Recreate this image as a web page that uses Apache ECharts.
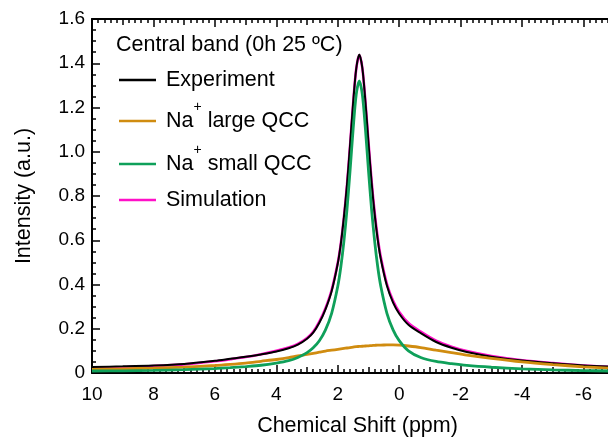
<!DOCTYPE html>
<html><head><meta charset="utf-8">
<script src="https://cdn.jsdelivr.net/npm/echarts@6/dist/echarts.min.js"></script>
<style>html,body{margin:0;padding:0;background:#fff;overflow:hidden;width:608px;height:437px}#c{width:645px;height:437px}</style>
</head><body><div id="c"></div>
<script>
// Chemical shift (ppm) sample positions
const shift = [10, 9, 8, 7, 6, 5.5, 5, 4.5, 4, 3.6, 3.3, 3.0, 2.8, 2.6, 2.4, 2.2, 2.0, 1.9, 1.8, 1.7, 1.6, 1.5, 1.4, 1.3, 1.2, 1.1, 1.0, 0.9, 0.8, 0.7, 0.6, 0.4, 0.2, 0.0, -0.3, -0.7, -1.2, -1.7, -2.2, -3, -4, -5, -6, -6.8];
const experiment = [0.027,0.030,0.034,0.041,0.055,0.064,0.073,0.084,0.097,0.112,
  0.128,0.155,0.182,0.227,0.288,0.370,0.495,0.585,0.705,0.850,
  1.030,1.220,1.375,1.440,1.378,1.225,1.038,0.862,0.718,0.603,
  0.515,0.394,0.318,0.268,0.218,0.180,0.140,0.114,0.095,0.074,
  0.056,0.044,0.034,0.029];
const largeQCC = [0.016,0.019,0.022,0.027,0.034,0.039,0.045,0.053,0.061,0.069,
  0.077,0.084,0.089,0.094,0.099,0.103,0.107,0.109,0.111,0.113,
  0.115,0.117,0.119,0.120,0.121,0.122,0.123,0.124,0.125,0.126,
  0.126,0.127,0.127,0.126,0.122,0.115,0.103,0.092,0.081,0.066,
  0.050,0.038,0.028,0.022];
const smallQCC = [0.009,0.010,0.012,0.015,0.020,0.024,0.029,0.035,0.045,0.056,
  0.070,0.092,0.114,0.146,0.195,0.270,0.392,0.480,0.596,0.740,
  0.915,1.102,1.258,1.320,1.258,1.102,0.915,0.740,0.596,0.480,
  0.392,0.270,0.195,0.146,0.100,0.070,0.052,0.042,0.034,0.026,
  0.019,0.014,0.011,0.009];
const simulation = [0.022,0.026,0.031,0.039,0.053,0.062,0.072,0.085,0.100,0.115,
  0.131,0.158,0.186,0.232,0.293,0.375,0.498,0.586,0.704,0.850,
  1.028,1.218,1.374,1.437,1.378,1.226,1.042,0.868,0.726,0.612,
  0.524,0.402,0.326,0.276,0.226,0.187,0.146,0.119,0.099,0.077,
  0.058,0.045,0.034,0.028];
const xTickValues = [10, 8, 6, 4, 2, 0, -2, -4, -6];
const xTickLabels = ['10','8','6','4','2','0','-2','-4','-6'];
const yTickLabels = ['0','0.2','0.4','0.6','0.8','1.0','1.2','1.4','1.6'];
const seriesNames = ['Experiment','Na+ large QCC','Na+ small QCC','Simulation'];
const titleText = 'Central band (0h 25 \u00BAC)';
const xName = 'Chemical Shift (ppm)';
const yName = 'Intensity (a.u.)';

const FONT = '"Liberation Sans", Arial, Helvetica, sans-serif';
const colors = {
  'Experiment': '#000000',
  'Na+ large QCC': '#D08C10',
  'Na+ small QCC': '#0FA05A',
  'Simulation': '#FF10C8'
};
const chart = echarts.init(document.getElementById('c'));
const pairs = ys => shift.map((x, i) => [x, ys[i]]);
const black = '#000';

function xAxisDef(pos, medium) {
  const a = {
    type: 'value', position: pos, min: -8, max: 10, inverse: true,
    interval: medium ? 1 : 2,
    axisLine: { show: !medium, onZero: false, lineStyle: { color: black, width: 2 } },
    axisTick: { show: true, inside: true, length: medium ? 6 : 8, lineStyle: { color: black, width: 1.5 } },
    minorTick: { show: !medium, splitNumber: 10, length: 4, lineStyle: { color: black, width: 1.5 } },
    splitLine: { show: false }, minorSplitLine: { show: false },
    axisLabel: { show: false }
  };
  if (!medium && pos === 'bottom') {
    a.axisLabel = {
      show: true, color: black, fontSize: 19, fontFamily: FONT, margin: 12,
      formatter: v => { const i = xTickValues.indexOf(v); return i >= 0 ? xTickLabels[i] : ''; }
    };
    a.name = xName; a.nameLocation = 'middle'; a.nameGap = 42;
    a.nameTextStyle = { color: black, fontSize: 21.5, fontFamily: FONT, padding: [0, 22, 0, 0] };
  }
  return a;
}

function legendFmt(name) {
  if (name.indexOf('Na+') === 0) return '{n|Na}{s|+}{n|' + name.slice(3) + '}';
  return name;
}
const rich = {
  n: { fontSize: 21.5, fontFamily: FONT, color: black },
  s: { fontSize: 14, fontFamily: FONT, color: black, padding: [0, 0, 28, 0] }
};
const legendTops = [69, 100, 143, 189];
const legends = seriesNames.map((nm, i) => ({
  data: [nm], left: 119, top: legendTops[i], orient: 'vertical', padding: 0,
  icon: 'rect', itemWidth: 37, itemHeight: 2.5, selectedMode: false,
  formatter: legendFmt,
  textStyle: { fontSize: 21.5, fontFamily: FONT, color: black, padding: [0, 0, 0, 5], rich: rich }
}));

const zOrder = { 'Simulation': 2, 'Experiment': 3, 'Na+ large QCC': 4, 'Na+ small QCC': 5 };
const dataMap = { 'Experiment': experiment, 'Na+ large QCC': largeQCC, 'Na+ small QCC': smallQCC, 'Simulation': simulation };
const widths = { 'Experiment': 2, 'Na+ large QCC': 2.8, 'Na+ small QCC': 2.8, 'Simulation': 2.6 };

chart.setOption({
  animation: false,
  backgroundColor: '#fff',
  title: { text: titleText, left: 116, top: 34, padding: 0,
    textStyle: { fontSize: 21.5, fontWeight: 'normal', fontFamily: FONT, color: black } },
  legend: legends,
  grid: { left: 92, right: 0, top: 19, bottom: 64, containLabel: false, outerBoundsMode: 'none' },
  xAxis: [xAxisDef('bottom', false), xAxisDef('top', false),
          xAxisDef('bottom', true), xAxisDef('top', true)],
  yAxis: [{
    type: 'value', position: 'left', min: 0, max: 1.6, interval: 0.2,
    axisLine: { show: true, onZero: false, lineStyle: { color: black, width: 2 } },
    axisTick: { show: true, inside: true, length: 8, lineStyle: { color: black, width: 1.5 } },
    minorTick: { show: true, splitNumber: 4, length: 4, lineStyle: { color: black, width: 1.5 } },
    splitLine: { show: false }, minorSplitLine: { show: false },
    axisLabel: { color: black, fontSize: 19, fontFamily: FONT, margin: 7,
      formatter: v => yTickLabels[Math.round(v / 0.2)] },
    name: yName, nameLocation: 'middle', nameGap: 57,
    nameTextStyle: { color: black, fontSize: 21.5, fontFamily: FONT }
  }],
  series: seriesNames.map(nm => ({
    name: nm, type: 'line', xAxisIndex: 0, yAxisIndex: 0,
    data: pairs(dataMap[nm]), showSymbol: false, symbol: 'none',
    smooth: 0.3, z: zOrder[nm],
    itemStyle: { color: colors[nm] },
    lineStyle: { color: colors[nm], width: widths[nm] }
  }))
});
</script></body></html>
